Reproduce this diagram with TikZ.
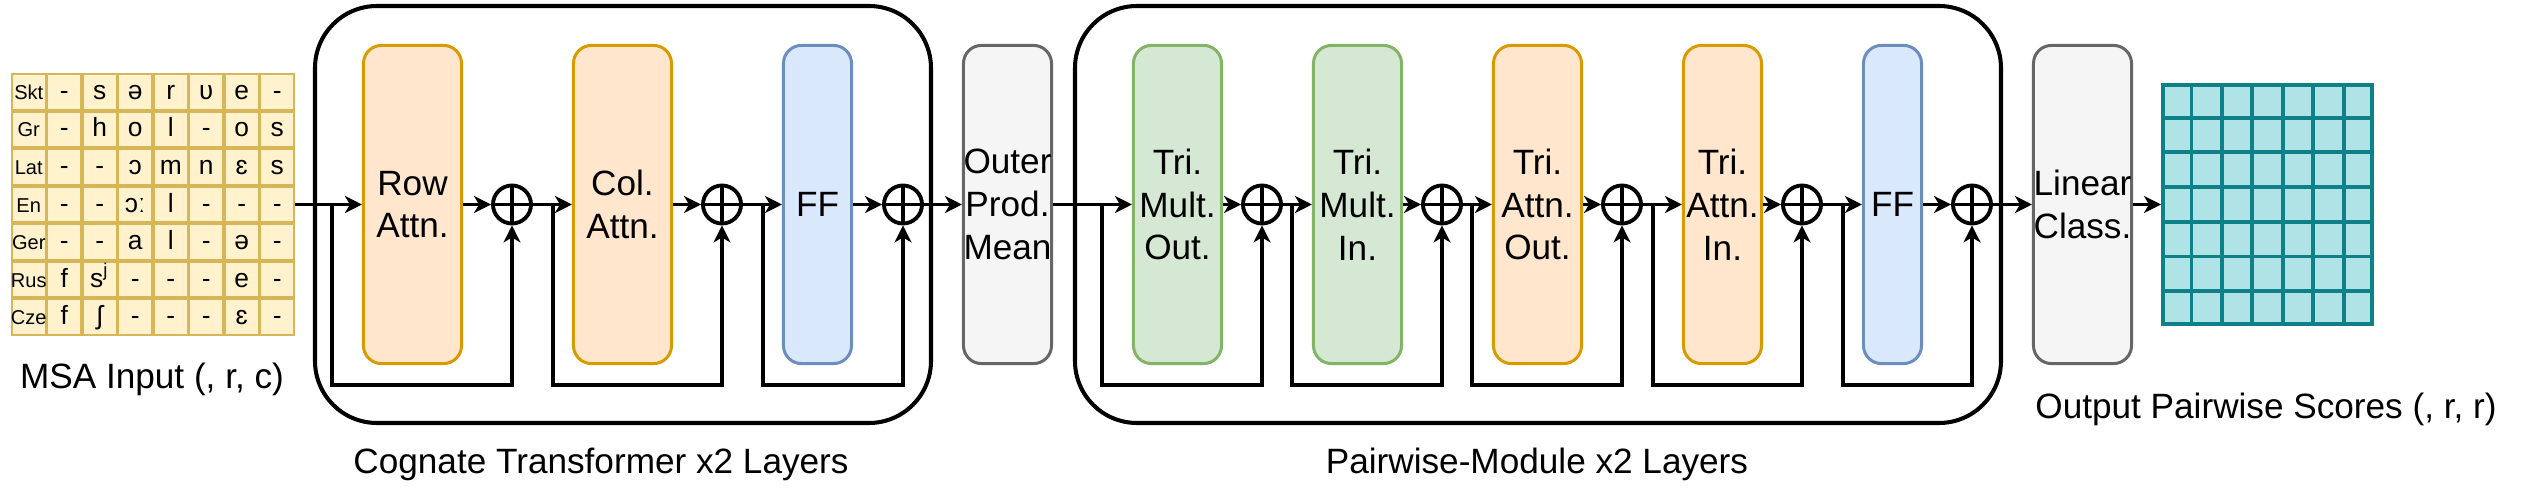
\documentclass[tikz,border=0pt]{standalone}
\usepackage{fontspec}
\setmainfont{Liberation Sans}
\usetikzlibrary{arrows.meta}

\definecolor{attnfill}{HTML}{FFE6CC}
\definecolor{attnline}{HTML}{D79B00}
\definecolor{multfill}{HTML}{D5E8D4}
\definecolor{multline}{HTML}{82B366}
\definecolor{fffill}{HTML}{DAE8FC}
\definecolor{ffline}{HTML}{6C8EBF}
\definecolor{grayfill}{HTML}{F5F5F5}
\definecolor{grayline}{HTML}{666666}
\definecolor{msafill}{HTML}{FFF2CC}
\definecolor{msaline}{HTML}{D6B656}
\definecolor{scorefill}{HTML}{B0E3E6}
\definecolor{scoreline}{HTML}{0E8088}

\tikzset{
    block/.style={rounded corners=0.18cm, line width=0.85pt, minimum height=3.18cm, inner sep=0pt, align=center, font=\fontsize{10}{12.2}\selectfont},
    attn/.style={block, draw=attnline, fill=attnfill},
    mult/.style={block, draw=multline, fill=multfill},
    ffn/.style={block, draw=ffline, fill=fffill},
    lin/.style={block, draw=grayline, fill=grayfill},
    addop/.style={circle, draw, line width=1.1pt, minimum size=0.38cm, inner sep=0pt,
        path picture={\draw[line width=1.1pt] (path picture bounding box.north) -- (path picture bounding box.south)
            (path picture bounding box.west) -- (path picture bounding box.east);}},
    layer/.style={draw, line width=1.15pt, rounded corners=0.62cm},
    arr/.style={line width=1pt, -{Stealth[length=0.17cm, width=0.17cm, inset=0.05cm]}},
    caption/.style={font=\fontsize{10}{12}\selectfont},
    msagrid/.style={draw=msaline, line width=1.1pt},
    msacell/.style={anchor=base, inner sep=0pt, font=\fontsize{7.5}{9}\selectfont},
    msalab/.style={anchor=base, inner sep=0pt, font=\fontsize{5.7}{7}\selectfont},
    scoregrid/.style={draw=scoreline, line width=1.1pt}
}

\begin{document}
\begin{tikzpicture}[x=0.01cm, y=-0.01cm]
        \useasboundingbox (0,0) rectangle (2529,491);

        \draw[layer] (315,6) rectangle (931,423);
        \draw[layer] (1075,6) rectangle (2001,423);

        \node[draw=msaline, fill=msafill, line width=0.8pt, minimum width=2.82cm, minimum height=2.61cm, inner sep=0pt] (msa) at (153,204.5) {};
        \foreach \i in {1,...,7} \draw[msagrid] (11+\i*35.5,73) -- (11+\i*35.5,336);
        \foreach \j in {1,...,6} \draw[msagrid] (11,73+\j*37.57) -- (295,73+\j*37.57);
        \foreach \lab [count=\r from 0] in {Skt,Gr,Lat,En,Ger,Rus,Cze}
            \node[msalab] at (28.75,99.3+\r*37.57) {\lab};
        \foreach \row [count=\r from 0] in {{-,s,ə,r,ʋ,e,-},{-,h,o,l,-,o,s},{-,-,ɔ,m,n,ɛ,s},{-,-,ɔː,l,-,-,-},{-,-,a,l,-,ə,-},{f,s\textsuperscript{j},-,-,-,e,-},{f,ʃ,-,-,-,ɛ,-}}
            \foreach \c [count=\k] in \row
                \node[msacell] at (28.75+\k*35.5,99.3+\r*37.57) {\c};

        \node[attn, minimum width=0.98cm] (row) at (412.5,204.5) {Row\\Attn.};
        \node[addop] (p1) at (512,204.5) {};
        \node[attn, minimum width=0.98cm] (col) at (622.5,204.5) {Col.\\Attn.};
        \node[addop] (p2) at (722,204.5) {};
        \node[ffn, minimum width=0.68cm] (ff1) at (817.5,204.5) {FF};
        \node[addop] (p3) at (903,204.5) {};
        \node[lin, minimum width=0.88cm] (opm) at (1007.5,204.5) {Outer\\Prod.\\Mean};
        \node[mult, minimum width=0.88cm] (tmo) at (1177.5,204.5) {Tri.\\Mult.\\Out.};
        \node[addop] (p4) at (1262,204.5) {};
        \node[mult, minimum width=0.88cm] (tmi) at (1357.5,204.5) {Tri.\\Mult.\\In.};
        \node[addop] (p5) at (1442,204.5) {};
        \node[attn, minimum width=0.88cm] (tao) at (1537.5,204.5) {Tri.\\Attn.\\Out.};
        \node[addop] (p6) at (1622,204.5) {};
        \node[attn, minimum width=0.78cm] (tai) at (1722.5,204.5) {Tri.\\Attn.\\In.};
        \node[addop] (p7) at (1802,204.5) {};
        \node[ffn, minimum width=0.58cm] (ff2) at (1892.5,204.5) {FF};
        \node[addop] (p8) at (1972,204.5) {};
        \node[lin, minimum width=0.98cm] (lc) at (2082.5,204.5) {Linear\\Class.};

        \node[draw=scoreline, fill=scorefill, line width=1.1pt, minimum width=2.09cm, minimum height=2.39cm, inner sep=0pt] (scores) at (2267.5,204.5) {};
        \foreach \i in {1,...,6} \draw[scoregrid] (2161+\i*30.43,83) -- (2161+\i*30.43,326);
        \foreach \j in {1,...,6} \draw[scoregrid] (2161,83+\j*34.71) -- (2374,83+\j*34.71);

        \draw[arr] (msa) -- (row);
        \draw[arr] (row) -- (p1);
        \draw[arr] (p1) -- (col);
        \draw[arr] (col) -- (p2);
        \draw[arr] (p2) -- (ff1);
        \draw[arr] (ff1) -- (p3);
        \draw[arr] (p3) -- (opm);
        \draw[arr] (opm) -- (tmo);
        \draw[arr] (tmo) -- (p4);
        \draw[arr] (p4) -- (tmi);
        \draw[arr] (tmi) -- (p5);
        \draw[arr] (p5) -- (tao);
        \draw[arr] (tao) -- (p6);
        \draw[arr] (p6) -- (tai);
        \draw[arr] (tai) -- (p7);
        \draw[arr] (p7) -- (ff2);
        \draw[arr] (ff2) -- (p8);
        \draw[arr] (p8) -- (lc);
        \draw[arr] (lc) -- (scores);

        \foreach \x [count=\n] in {332,553,763,1102,1292,1472,1653,1843} {
            \coordinate (s\n) at (\x,204.5);
            \draw[arr] (s\n) -- ++(0,180.5) -| (p\n);
        }

        \node[caption] (msacap) at (152,379) {MSA Input (, r, c)};
        \node[caption] (cogcap) at (601,464) {Cognate Transformer x2 Layers};
        \node[caption] (paircap) at (1537,464) {Pairwise-Module x2 Layers};
        \node[caption] (outcap) at (2266,409) {Output Pairwise Scores (, r, r)};
    \end{tikzpicture}
\end{document}
